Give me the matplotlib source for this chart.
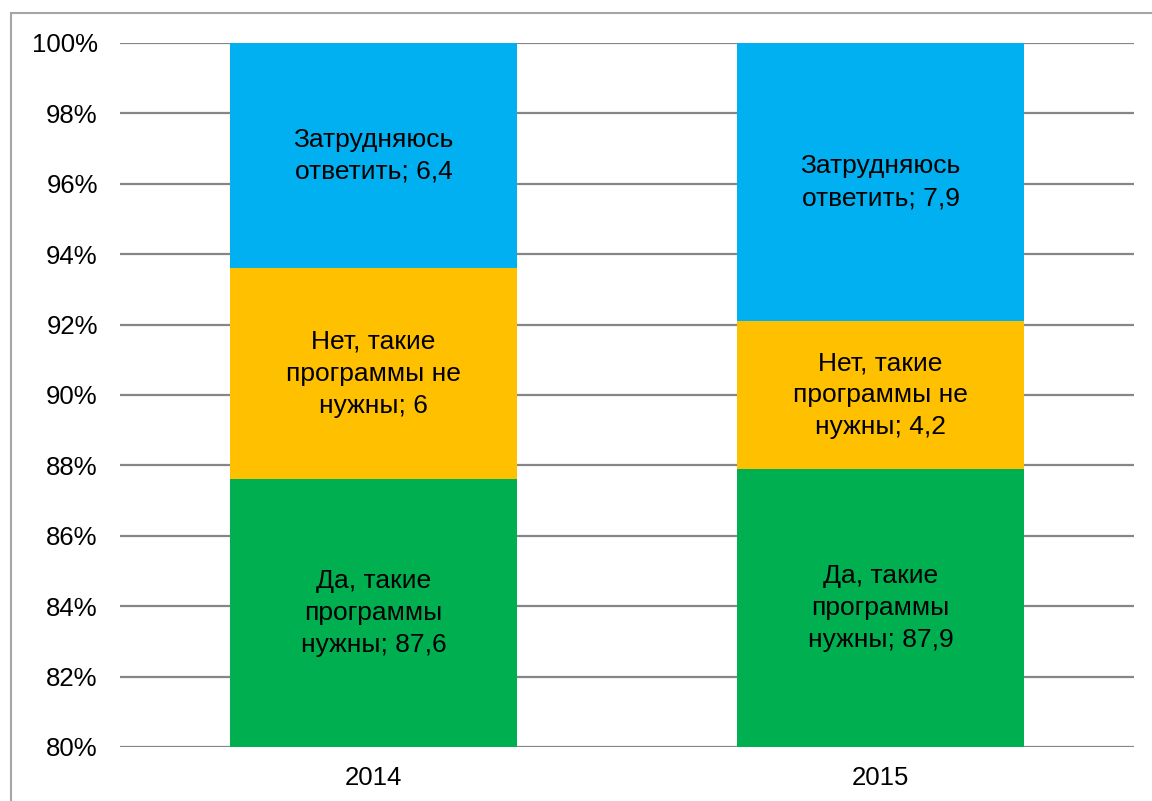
import matplotlib.pyplot as plt
from matplotlib.patches import Rectangle

plt.rcParams['font.family'] = ['Liberation Sans', 'DejaVu Sans']

years = ['2014', '2015']
names = [
    'Да, такие\nпрограммы\nнужны',
    'Нет, такие\nпрограммы не\nнужны',
    'Затрудняюсь\nответить',
]
yes_vals = [87.6, 87.9]
no_vals = [6, 4.2]
unsure_vals = [6.4, 7.9]
colors = ['#00B050', '#FFC000', '#00B0F0']

ymin, ymax = 80, 100

fig = plt.figure(figsize=(11.52, 8.01), dpi=100)
ax = fig.add_axes([120 / 1152, 1 - 747 / 801, 1014 / 1152, 704 / 801])

# frame around the chart area (only left/top edges visible in the picture)
fig.patches.append(Rectangle((11 / 1152, -0.05), 1.2, 1 - 13 / 801 + 0.05,
                             transform=fig.transFigure, fill=False,
                             edgecolor='#A6A6A6', linewidth=1.5))

x = list(range(len(years)))
series = [yes_vals, no_vals, unsure_vals]
bottoms = [0.0] * len(years)
for name, vals, col in zip(names, series, colors):
    ax.bar(x, vals, bottom=bottoms, width=0.568, color=col, zorder=2)
    for i, v in enumerate(vals):
        lo = max(bottoms[i], ymin)
        hi = min(bottoms[i] + v, ymax)
        txt = '%s; %s' % (name, ('%g' % v).replace('.', ','))
        ax.text(x[i], (lo + hi) / 2, txt, ha='center', va='center',
                fontsize=19, linespacing=1.42, zorder=3)
    bottoms = [b + v for b, v in zip(bottoms, vals)]

ax.set_xlim(-0.5, len(years) - 0.5)
ax.set_ylim(ymin, ymax)
ax.set_yticks(range(80, 101, 2))
ax.set_yticklabels(['%d%%' % t for t in range(80, 101, 2)])
ax.set_xticks(x)
ax.set_xticklabels(years)
ax.tick_params(length=0, labelsize=18.5)
ax.tick_params(axis='y', pad=16)
ax.tick_params(axis='x', pad=14)
ax.grid(axis='y', color='#868686', linewidth=1.6, zorder=0)
ax.set_axisbelow(True)
for s in ax.spines.values():
    s.set_visible(False)

fig.savefig('out.png', dpi=100)
